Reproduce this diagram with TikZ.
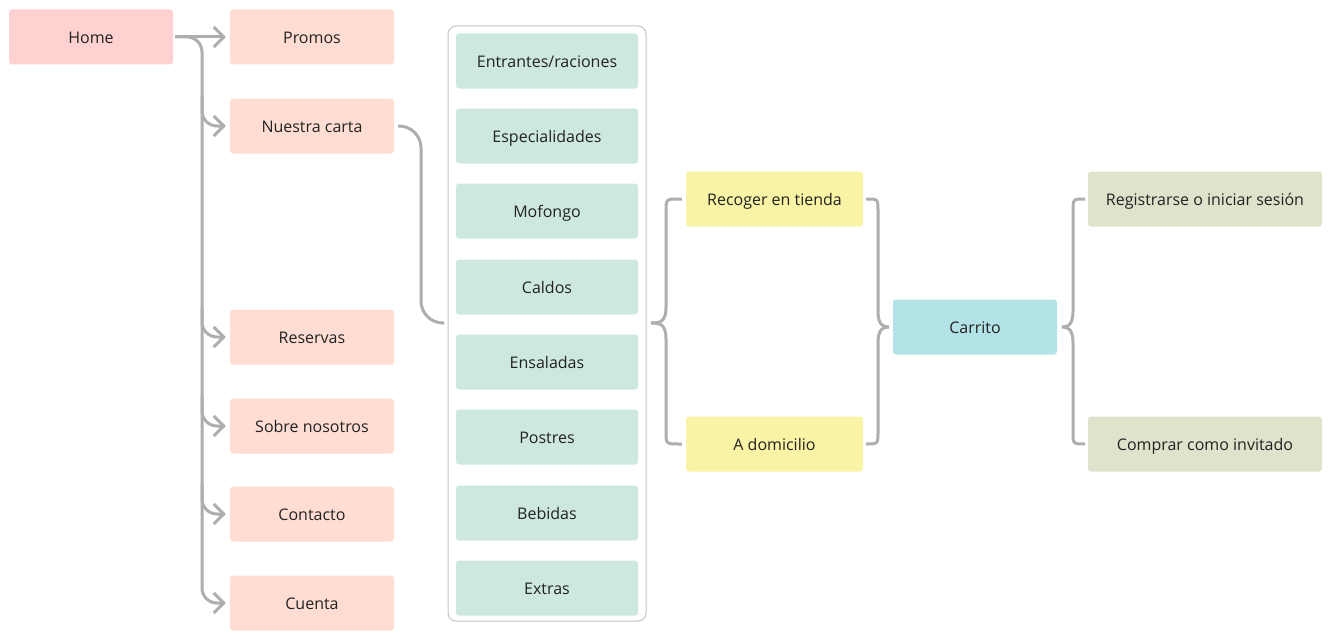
\documentclass[tikz,border=0pt]{standalone}
\usepackage{fontspec}
\setmainfont{Open Sans}
\usetikzlibrary{arrows.meta}
\definecolor{homec}{HTML}{FFD1D1}
\definecolor{pinkc}{HTML}{FFDDD3}
\definecolor{menuc}{HTML}{CDE8DE}
\definecolor{yelc}{HTML}{F8F3A5}
\definecolor{cartc}{HTML}{B3E3E6}
\definecolor{olivec}{HTML}{DDE4CB}
\definecolor{linec}{HTML}{AEAEAE}
\definecolor{framec}{HTML}{C4C4C4}
\definecolor{txtc}{HTML}{222222}
\tikzset{
  box/.style={rounded corners=3pt, minimum height=55pt, inner sep=0pt, font=\fontsize{16}{19}\selectfont, text=txtc, text depth=0pt, text height=13.5pt},
  homebox/.style={box, fill=homec, minimum width=164pt},
  pinkbox/.style={box, fill=pinkc, minimum width=164pt},
  menubox/.style={box, fill=menuc, minimum width=182pt},
  yelbox/.style={box, fill=yelc, minimum width=177pt},
  cartbox/.style={box, fill=cartc, minimum width=164pt},
  olivebox/.style={box, fill=olivec, minimum width=234pt},
  conn/.style={draw=linec, line width=3pt, rounded corners=15pt},
  arr/.style={conn, -{Straight Barb[length=10pt,width=20pt,line width=3pt]}, shorten >=4pt},
  brace/.style={draw=linec, line width=3pt}
}
\begin{document}
\begin{tikzpicture}[x=1pt,y=-1pt]
\useasboundingbox (0,0) rectangle (1333,642);
% left column
\node[homebox] (home) at (91,37) {Home};
\node[pinkbox] (promos) at (312,37) {Promos};
\node[pinkbox] (carta) at (312,126) {Nuestra carta};
\node[pinkbox] (reservas) at (312,337) {Reservas};
\node[pinkbox] (sobre) at (312,426) {Sobre nosotros};
\node[pinkbox] (contacto) at (312,514) {Contacto};
\node[pinkbox] (cuenta) at (312,603) {Cuenta};
% menu frame
\node[draw=framec, line width=1pt, rounded corners=8pt, minimum width=198pt, minimum height=595pt, inner sep=0pt] (frame) at (547,323.5) {};
\node[menubox] (m1) at (547,61) {Entrantes/raciones};
\node[menubox] (m2) at (547,136) {Especialidades};
\node[menubox] (m3) at (547,211) {Mofongo};
\node[menubox] (m4) at (547,287) {Caldos};
\node[menubox] (m5) at (547,362) {Ensaladas};
\node[menubox] (m6) at (547,437) {Postres};
\node[menubox] (m7) at (547,513) {Bebidas};
\node[menubox] (m8) at (547,588) {Extras};
% delivery
\node[yelbox] (recoger) at (774.5,199) {Recoger en tienda};
\node[yelbox] (domicilio) at (774.5,444) {A domicilio};
\node[cartbox] (carrito) at (975,327) {Carrito};
\node[olivebox] (registrar) at (1205,199) {Registrarse o iniciar sesión};
\node[olivebox] (invitado) at (1205,444) {Comprar como invitado};
% coordinates
\coordinate (trunk) at (202,37);
\coordinate (hs) at (175,37);
% home connectors
\draw[arr, rounded corners=0pt] (hs) -- (promos.west);
\draw[arr] (hs) -- (trunk) |- (cuenta.west);
\foreach \n in {carta,reservas,sobre,contacto}{
  \draw[arr] ([yshift=30pt]trunk |- \n.west) |- (\n.west);
}
% carta to menu
\coordinate (cs) at (398,126);
\coordinate (ce) at (444,323);
\draw[conn, rounded corners=22pt] (cs) -| (421,323) -- (ce);
% brace left of yellow
\coordinate (b1t) at (651,323);
\draw[brace] ([xshift=-4pt]recoger.west) -- (679,199) .. controls (666,199) .. (666,212) -- (666,307) .. controls (666,322) and (660,323) .. (b1t);
\draw[brace] ([xshift=-4pt]domicilio.west) -- (679,444) .. controls (666,444) .. (666,431) -- (666,339) .. controls (666,324) and (660,323) .. (b1t);
% brace right of yellow
\coordinate (b2t) at (889,327);
\draw[brace] ([xshift=3pt]recoger.east) -- (866,199) .. controls (878,199) .. (878,211) -- (878,311) .. controls (878,326) and (884,327) .. (b2t);
\draw[brace] ([xshift=3pt]domicilio.east) -- (866,444) .. controls (878,444) .. (878,432) -- (878,343) .. controls (878,328) and (884,327) .. (b2t);
% brace before olive
\coordinate (b3t) at (1062,327);
\draw[brace] ([xshift=-4pt]registrar.west) -- (1085,199) .. controls (1073,199) .. (1073,211) -- (1073,311) .. controls (1073,326) and (1067,327) .. (b3t);
\draw[brace] ([xshift=-4pt]invitado.west) -- (1085,444) .. controls (1073,444) .. (1073,432) -- (1073,343) .. controls (1073,328) and (1067,327) .. (b3t);
\end{tikzpicture}
\end{document}
